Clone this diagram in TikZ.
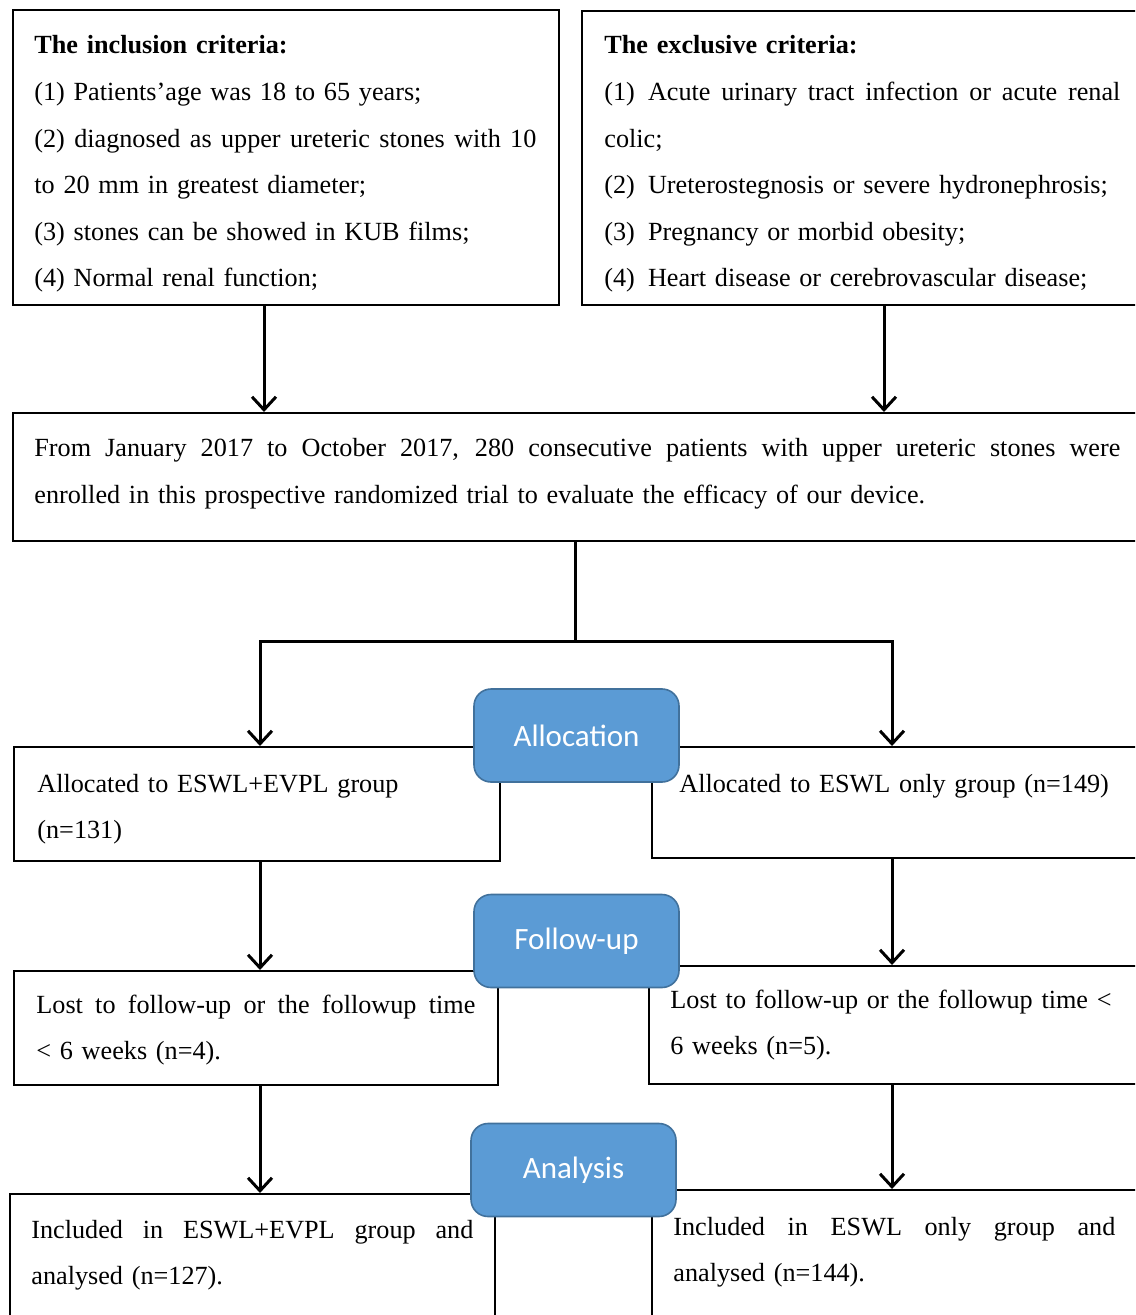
\documentclass[tikz,border=0pt]{standalone}
\usepackage{fontspec}
\setmainfont{Liberation Serif}
\newfontfamily\stagefont{Carlito}
\usetikzlibrary{arrows.meta,positioning}
\definecolor{stageblue}{HTML}{5B9BD5}
\definecolor{stageedge}{HTML}{41719C}
\newcommand{\fullline}[2]{\makebox[#1][s]{\spaceskip=\fontdimen2\font plus 1fil\relax #2}}
\newcommand{\numgap}{\hspace{0.5em}}
\tikzset{
  box/.style={draw, line width=0.9pt, anchor=north west, inner sep=0pt},
  txt/.style={anchor=base west, inner sep=0pt, align=left, font=\fontsize{13.1}{23.3}\selectfont},
  stage/.style={draw=stageedge, fill=stageblue, line width=0.8pt, rounded corners=8.5pt,
    minimum width=102.5pt, minimum height=46.5pt, inner sep=0pt, text=white,
    font=\stagefont\fontsize{15.5}{18}\selectfont},
  link/.style={line width=1.5pt},
  arr/.style={line width=1.5pt, -{Straight Barb[length=6.5pt,width=12pt]}}
}
\begin{document}
\begin{tikzpicture}[x=0.5pt, y=-0.5pt]
    \useasboundingbox (0,0) rectangle (1135,1315);
    \clip (0,0) rectangle (1135,1315);

    % Criteria
    \node[box, minimum width=273pt, minimum height=147.5pt] (incl) at (12,9) {};
    \node[box, minimum width=280pt, minimum height=147pt] (excl) at (581,10) {};
    \node[txt, text width=251pt] (incltxt) at (34,54) {%
        \textbf{The inclusion criteria:}\\
        (1) Patients'age was 18 to 65 years;\\
        \fullline{251pt}{(2) diagnosed as upper ureteric stones with 10}\\
        to 20 mm in greatest diameter;\\
        (3) stones can be showed in KUB films;\\
        (4) Normal renal function;};
    \node[txt, text width=258pt] (excltxt) at (604,54) {%
        \textbf{The exclusive criteria:}\\
        \fullline{258pt}{(1)\numgap Acute urinary tract infection or acute renal}\\
        colic;\\
        \mbox{(2)\numgap Ureterostegnosis or severe hydronephrosis;}\\
        (3)\numgap Pregnancy or morbid obesity;\\
        \mbox{(4)\numgap Heart disease or cerebrovascular disease;}};

    % Enrolment
    \node[box, minimum width=564.5pt, minimum height=64pt] (enrol) at (12,412) {};
    \node[txt, text width=543pt] (enroltxt) at (34,457) {%
        \fullline{543pt}{From January 2017 to October 2017, 280 consecutive patients with upper ureteric stones were}\\
        enrolled in this prospective randomized trial to evaluate the efficacy of our device.};

    % Group boxes
    \node[box, minimum width=243pt, minimum height=57pt] (allocL) at (13,746) {};
    \node[box, minimum width=245pt, minimum height=55.5pt] (allocR) at (651,746) {};
    \node[box, minimum width=242pt, minimum height=57pt] (lostL) at (13,970) {};
    \node[box, minimum width=246.5pt, minimum height=59pt] (lostR) at (648,965) {};
    \node[box, minimum width=242.5pt, minimum height=65pt] (inclL) at (9,1193) {};
    \node[box, minimum width=245pt, minimum height=65pt] (inclR) at (651,1189) {};

    \node[txt, text width=225pt] (allocLtxt) at (37,792) {Allocated to ESWL+EVPL group\\ (n=131)};
    \node[txt, text width=230pt] (allocRtxt) at (679,792) {Allocated to ESWL only group (n=149)};
    \node[txt, text width=219.5pt] (lostLtxt) at (36,1013) {%
        \fullline{219.5pt}{Lost to follow-up or the followup time}\\ < 6 weeks (n=4).};
    \node[txt, text width=240pt] (lostRtxt) at (670,1008) {%
        Lost to follow-up or the followup time <\\ 6 weeks (n=5).};
    \node[txt, text width=221pt] (inclLtxt) at (31,1238) {%
        \fullline{221pt}{Included in ESWL+EVPL group and}\\ analysed (n=127).};
    \node[txt, text width=221pt] (inclRtxt) at (673,1235) {%
        \fullline{221pt}{Included in ESWL only group and}\\ analysed (n=144).};

    % Stage labels
    \node[stage] (allocation) at (576.5,735.5) {Allocation};
    \node[stage] (followup) at (576.5,941) {Follow-up};
    \node[stage] (analysis) at (573.5,1170) {Analysis};

    % Connectors
    \coordinate (colA) at (264,0);
    \coordinate (colB) at (884,0);
    \coordinate (colL) at (260,0);
    \coordinate (colR) at (892,0);
    \coordinate (split) at (575,641);
    \draw[arr] (incl.south -| colA) -- (enrol.north -| colA);
    \draw[arr] (excl.south -| colB) -- (enrol.north -| colB);
    \draw[link] (enrol.south -| split) -- (split);
    \draw[arr] (split) -| (allocL.north -| colL);
    \draw[arr] (split) -| (allocR.north -| colR);
    \draw[arr] (allocL.south -| colL) -- (lostL.north -| colL);
    \draw[arr] (allocR.south -| colR) -- (lostR.north -| colR);
    \draw[arr] (lostL.south -| colL) -- (inclL.north -| colL);
    \draw[arr] (lostR.south -| colR) -- (inclR.north -| colR);
\end{tikzpicture}
\end{document}
